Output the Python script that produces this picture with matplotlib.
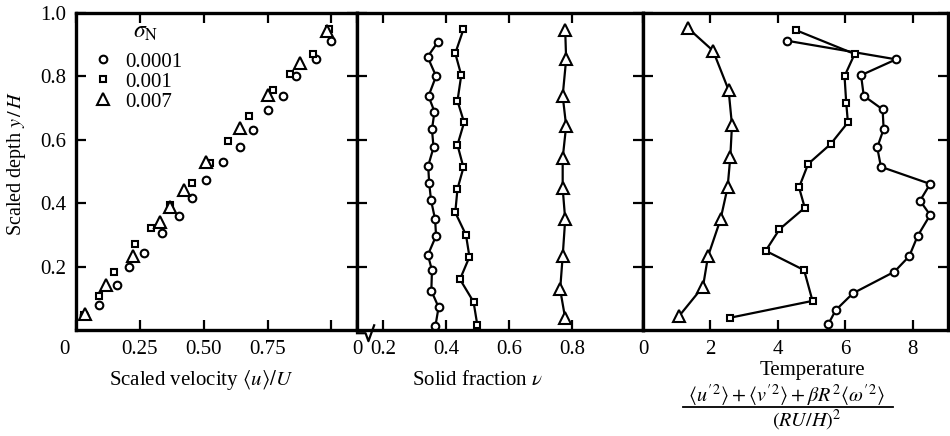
import matplotlib
matplotlib.use("Agg")
import matplotlib.pyplot as plt
from matplotlib.lines import Line2D
import numpy as np

plt.rcParams['font.family'] = ['Liberation Serif', 'DejaVu Serif']
plt.rcParams['mathtext.fontset'] = 'stix'

# --- velocity profile (markers only) ---
vel_circ_x = [0.997, 0.938, 0.863, 0.809, 0.753, 0.694, 0.642, 0.574, 0.509, 0.456,
              0.404, 0.337, 0.268, 0.206, 0.161, 0.091, 0.030]
vel_circ_y = [0.913, 0.854, 0.801, 0.737, 0.694, 0.631, 0.578, 0.531, 0.473, 0.416,
              0.360, 0.307, 0.244, 0.198, 0.142, 0.079, 0.047]
vel_sq_x = [0.990, 0.928, 0.839, 0.770, 0.678, 0.595, 0.525, 0.456, 0.368, 0.293,
            0.230, 0.148, 0.090, 0.030]
vel_sq_y = [0.949, 0.871, 0.808, 0.757, 0.675, 0.595, 0.528, 0.465, 0.394, 0.323,
            0.273, 0.184, 0.107, 0.047]
vel_tri_x = [0.984, 0.876, 0.753, 0.642, 0.509, 0.421, 0.368, 0.329, 0.223, 0.117, 0.034]
vel_tri_y = [0.944, 0.843, 0.741, 0.636, 0.531, 0.442, 0.387, 0.342, 0.233, 0.142, 0.050]

# --- solid fraction ---
nu_circ_x = [0.374, 0.341, 0.368, 0.344, 0.363, 0.355, 0.360, 0.343, 0.346, 0.352,
             0.365, 0.368, 0.342, 0.355, 0.353, 0.376, 0.366]
nu_circ_y = [0.909, 0.862, 0.801, 0.738, 0.689, 0.633, 0.576, 0.518, 0.465, 0.410,
             0.349, 0.297, 0.237, 0.189, 0.124, 0.072, 0.013]
nu_sq_x = [0.455, 0.429, 0.448, 0.436, 0.457, 0.436, 0.455, 0.436, 0.429, 0.463,
           0.474, 0.444, 0.487, 0.499]
nu_sq_y = [0.949, 0.873, 0.804, 0.723, 0.655, 0.584, 0.513, 0.445, 0.371, 0.300,
           0.231, 0.160, 0.089, 0.016]
nu_tri_x = [0.778, 0.781, 0.770, 0.781, 0.770, 0.770, 0.778, 0.770, 0.762, 0.778]
nu_tri_y = [0.946, 0.854, 0.739, 0.644, 0.542, 0.447, 0.349, 0.233, 0.128, 0.037]

# --- temperature ---
T_circ_x = [4.26, 7.51, 6.47, 6.55, 7.11, 7.14, 6.95, 7.06, 8.52, 8.22, 8.52, 8.15,
            7.90, 7.46, 6.23, 5.72, 5.50]
T_circ_y = [0.913, 0.854, 0.804, 0.739, 0.696, 0.634, 0.576, 0.515, 0.461, 0.408,
            0.363, 0.297, 0.233, 0.184, 0.116, 0.063, 0.019]
T_sq_x = [4.54, 6.28, 5.98, 6.03, 6.08, 5.57, 4.90, 4.63, 4.80, 4.05, 3.64, 4.78, 5.03, 2.59]
T_sq_y = [0.946, 0.871, 0.801, 0.717, 0.655, 0.587, 0.524, 0.450, 0.386, 0.318,
          0.250, 0.189, 0.092, 0.039]
T_tri_x = [1.34, 2.08, 2.54, 2.64, 2.59, 2.51, 2.30, 1.93, 1.78, 1.07]
T_tri_y = [0.952, 0.881, 0.757, 0.647, 0.545, 0.450, 0.349, 0.233, 0.137, 0.044]

labels = ['0.0001', '0.001', '0.007']

fig = plt.figure(figsize=(9.5, 4.36), dpi=100)
H = 0.727
B = 0.243
ax1 = fig.add_axes([76/950, B, 281/950, H])
ax2 = fig.add_axes([357/950, B, 286/950, H])
ax3 = fig.add_axes([643/950, B, 305/950, H])

mk = dict(mfc='white', mec='black', mew=1.5, color='black')
circ = dict(marker='o', ms=5.5, **mk)
sq = dict(marker='s', ms=5, **mk)
tri = dict(marker='^', ms=8, **mk)

ax1.plot(vel_circ_x, vel_circ_y, ls='none', label=labels[0], **circ)
ax1.plot(vel_sq_x, vel_sq_y, ls='none', label=labels[1], **sq)
ax1.plot(vel_tri_x, vel_tri_y, ls='none', label=labels[2], **tri)

ax2.plot(nu_circ_x, nu_circ_y, lw=1.6, **circ)
ax2.plot(nu_sq_x, nu_sq_y, lw=1.6, **sq)
ax2.plot(nu_tri_x, nu_tri_y, lw=1.6, **tri)

ax3.plot(T_circ_x, T_circ_y, lw=1.6, clip_on=False, **circ)
ax3.plot(T_sq_x, T_sq_y, lw=1.6, **sq)
ax3.plot(T_tri_x, T_tri_y, lw=1.6, **tri)

for ax in (ax1, ax2, ax3):
    ax.set_ylim(0, 1.0)
    ax.set_yticks([0.2, 0.4, 0.6, 0.8, 1.0])
    ax.tick_params(direction='in', length=7, width=1.6, top=True, right=True,
                   labelsize=15, pad=7)
    for s in ax.spines.values():
        s.set_linewidth(2.4)
    if ax is not ax1:
        ax.set_yticklabels([])

ax1.set_xlim(0, 1.1)
ax1.set_xticks([0, 0.25, 0.5, 0.75, 1.0])
ax1.set_xticklabels(['', '0.25', '0.50', '0.75', ''])
ax1.set_yticklabels(['0.2', '0.4', '0.6', '0.8', '1.0'])
ax1.set_ylabel(r'Scaled depth $y\,/\,H$', fontsize=14.5)
ax1.yaxis.set_label_coords(-0.17, 0.527)
fig.text(64/950, 1 - 350/436, '0', ha='center', va='center', fontsize=15)
fig.text(201/950, 1 - 380/436, r'Scaled velocity $\langle u\rangle/U$',
         ha='center', va='center', fontsize=15)

ax2.set_xlim(0.117, 1.025)
ax2.set_xticks([0.117, 0.2, 0.4, 0.6, 0.8])
ax2.set_xticklabels(['0', '0.2', '0.4', '0.6', '0.8'])
fig.text(478/950, 1 - 380/436, r'Solid fraction $\nu$',
         ha='center', va='center', fontsize=15)
# axis break mark
ax2.plot([0.0, 0.03, 0.04, 0.06], [-0.01, -0.01, -0.035, 0.015],
         transform=ax2.transAxes, color='black', lw=1.6, clip_on=False)

ax3.set_xlim(0, 9.05)
ax3.set_xticks([0, 2, 4, 6, 8])
ax3.set_xticklabels(['0', '2', '4', '6', '8'])

fig.text(812/950, 1 - 371/436, 'Temperature', ha='center', va='center', fontsize=15)
fig.text(786/950, 1 - 396/436,
         r"$\langle u'^{2}\rangle+\langle v'^{2}\rangle+\beta R^{2}\langle\omega'^{2}\rangle$",
         ha='center', va='center', fontsize=14.5)
fig.add_artist(Line2D([683/950, 893/950], [1 - 407/436, 1 - 407/436],
                      transform=fig.transFigure, color='black', lw=1.3))
fig.text(807/950, 1 - 420/436, r'$(RU/H)^{2}$', ha='center', va='center', fontsize=14.5)

ax1.text(146/950, 1 - 33/436, r'$\sigma_\mathrm{N}$', transform=fig.transFigure,
         ha='center', va='center', fontsize=17)
leg = ax1.legend(loc='upper left', bbox_to_anchor=(0.06, 0.877), frameon=False,
                 fontsize=15, borderpad=0, borderaxespad=0,
                 handlelength=1.0, handletextpad=0.55, labelspacing=0.02)

fig.savefig('out.png', dpi=100)
